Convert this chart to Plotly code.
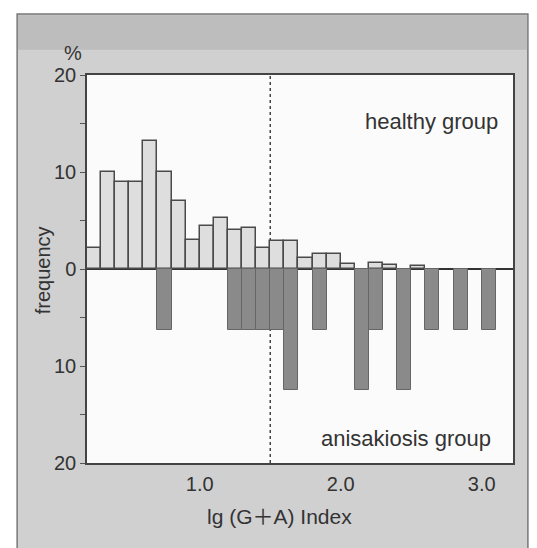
import plotly.graph_objects as go

# bins of lg(G+A) index, width 0.1, starting at 0.2
bin_width = 0.1
bin_start = 0.2
n_bins = 29
bin_centers = [round(bin_start + bin_width * (i + 0.5), 3) for i in range(n_bins)]

# healthy group frequency (%) per bin
healthy = [2.2, 10.0, 9.0, 9.0, 13.2, 10.0, 7.0, 3.0, 4.4, 5.3, 4.0, 4.2, 2.2, 2.85, 2.85,
           1.1, 1.55, 1.55, 0.55, 0.0, 0.65, 0.4, 0.0, 0.35, 0.0, 0.0, 0.0, 0.0, 0.0]
# anisakiosis group frequency (%) per bin (drawn downward)
anisakiosis = [0, 0, 0, 0, 0, 6.25, 0, 0, 0, 0, 6.25, 6.25, 6.25, 6.25, 12.5,
               0, 6.25, 0, 0, 12.5, 6.25, 0, 12.5, 0, 6.25, 0, 6.25, 0, 6.25]

cutoff = 1.5
x_ticks = [1.0, 2.0, 3.0]
x_tick_labels = ["1.0", "2.0", "3.0"]
y_ticks = [-20, -15, -10, -5, 0, 5, 10, 15, 20]
y_tick_labels = ["20", "", "10", "", "0", "", "10", "", "20"]

FONT = "Liberation Sans, Arial, Noto Sans CJK JP"
TXT = "#333333"

hx = [c for c, v in zip(bin_centers, healthy) if v > 0]
hy = [v for v in healthy if v > 0]
ax_ = [c for c, v in zip(bin_centers, anisakiosis) if v > 0]
ay = [-v for v in anisakiosis if v > 0]

fig = go.Figure()
fig.add_trace(go.Bar(x=hx, y=hy, width=bin_width, name="healthy group",
                     marker=dict(color="#dedede", line=dict(color="#4a4a4a", width=1.5)),
                     showlegend=False))
fig.add_trace(go.Bar(x=ax_, y=ay, width=bin_width, name="anisakiosis group",
                     marker=dict(color="#8a8a8a", line=dict(color="#666666", width=1)),
                     showlegend=False))

shapes = [
    # scanned page frame
    dict(type="rect", xref="paper", yref="paper", x0=-0.164, x1=1.035, y0=-0.26, y1=1.157,
         fillcolor="#d0d0d0", line=dict(color="#777777", width=1.5), layer="below"),
    dict(type="rect", xref="paper", yref="paper", x0=-0.162, x1=1.033, y0=1.065, y1=1.154,
         fillcolor="#bdbdbd", line=dict(width=0), layer="below"),
    # white plot area
    dict(type="rect", xref="paper", yref="paper", x0=0, x1=1, y0=0, y1=1,
         fillcolor="#fbfbfb", line=dict(width=0), layer="below"),
    # cutoff line
    dict(type="line", xref="x", yref="y", x0=cutoff, x1=cutoff, y0=-20, y1=20,
         line=dict(color="#444444", width=1.5, dash="dot"), layer="below"),
]

fig.update_layout(
    width=537, height=548,
    margin=dict(l=79, r=32, t=67, b=93),
    paper_bgcolor="white",
    plot_bgcolor="rgba(0,0,0,0)",
    barmode="overlay",
    bargap=0,
    shapes=shapes,
    font=dict(family=FONT, color=TXT, size=20),
    xaxis=dict(range=[bin_start, 3.222], tickvals=x_ticks, ticktext=x_tick_labels,
               showgrid=False, zeroline=False, showline=True, mirror=True,
               linecolor="#444444", linewidth=1.5, ticks="", ticklabelstandoff=2,
               tickfont=dict(size=20, color=TXT, family=FONT)),
    yaxis=dict(range=[-20, 20], tickvals=y_ticks, ticktext=y_tick_labels,
               showgrid=False, zeroline=True, zerolinecolor="#333333", zerolinewidth=1.5,
               showline=True, mirror=True, linecolor="#444444", linewidth=1.5,
               ticks="outside", ticklen=5, tickcolor="#555555", tickwidth=1,
               tickfont=dict(size=20, color=TXT, family=FONT)),
    annotations=[
        dict(text="%", xref="paper", yref="paper", x=-0.033, y=1.057, showarrow=False,
             xanchor="center", yanchor="middle", font=dict(size=20, color=TXT)),
        dict(text="frequency", xref="paper", yref="paper", x=-0.103, y=0.497, showarrow=False,
             textangle=-90, xanchor="center", yanchor="middle", font=dict(size=20, color=TXT)),
        dict(text="healthy group", xref="paper", yref="paper", x=0.969, y=0.879, showarrow=False,
             xanchor="right", yanchor="middle", font=dict(size=22, color=TXT)),
        dict(text="anisakiosis group", xref="paper", yref="paper", x=0.953, y=0.064, showarrow=False,
             xanchor="right", yanchor="middle", font=dict(size=22, color=TXT)),
        dict(text="lg (G＋A) Index", xref="paper", yref="paper", x=0.453, y=-0.139, showarrow=False,
             xanchor="center", yanchor="middle", font=dict(size=21, color=TXT)),
    ],
)

fig.write_html("out.html")
